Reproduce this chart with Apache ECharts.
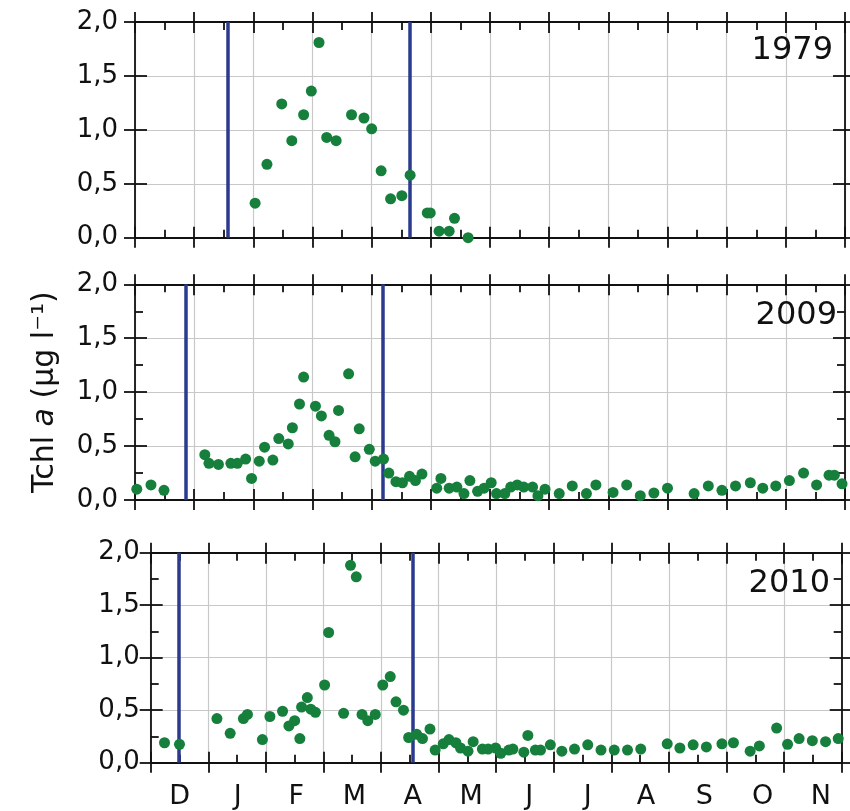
<!DOCTYPE html>
<html><head><meta charset="utf-8">
<script src="https://cdn.jsdelivr.net/npm/echarts@6/dist/echarts.min.js"></script>
<style>html,body{margin:0;padding:0;background:#fff}#c{width:850px;height:811px}</style>
</head><body><div id="c"></div>
<script>
// Month labels (x in months since 1 December) and y tick labels
const months = ['D','J','F','M','A','M','J','J','A','S','O','N'];
const yTickLabels = ['0,0','0,5','1,0','1,5','2,0'];
const years = ['1979','2009','2010'];

// 1979
const x1979 = [2.03,2.23,2.48,2.65,2.85,2.98,3.11,3.24,3.40,3.66,3.87,4.00,4.16,4.32,4.51,4.65,4.94,4.99,5.14,5.31,5.40,5.63];
const y1979 = [0.32,0.68,1.24,0.90,1.14,1.36,1.81,0.93,0.90,1.14,1.11,1.01,0.62,0.36,0.39,0.58,0.23,0.23,0.06,0.06,0.18,0.00];
const ice1979 = [1.57, 4.65];

// 2009
const x2009 = [0.03,0.27,0.49,1.18,1.25,1.41,1.62,1.73,1.87,1.97,2.10,2.19,2.33,2.43,2.59,2.66,2.78,2.85,3.05,3.15,3.28,3.38,3.44,3.61,3.72,3.79,3.96,4.06,4.20,4.29,4.41,4.52,4.64,4.74,4.85,5.10,5.17,5.31,5.44,5.56,5.66,5.79,5.90,6.02,6.11,6.25,6.35,6.46,6.57,6.72,6.81,6.93,7.17,7.39,7.63,7.79,8.08,8.31,8.54,8.77,9.00,9.45,9.69,9.92,10.15,10.40,10.61,10.83,11.06,11.30,11.52,11.73,11.82,11.95];
const y2009 = [0.10,0.14,0.09,0.42,0.34,0.33,0.34,0.34,0.38,0.20,0.36,0.49,0.37,0.57,0.52,0.67,0.89,1.14,0.87,0.78,0.60,0.54,0.83,1.17,0.40,0.66,0.47,0.36,0.38,0.25,0.17,0.16,0.22,0.18,0.24,0.11,0.20,0.11,0.12,0.06,0.18,0.08,0.11,0.16,0.06,0.06,0.12,0.14,0.12,0.12,0.04,0.10,0.06,0.13,0.06,0.14,0.07,0.14,0.04,0.065,0.11,0.06,0.13,0.09,0.13,0.16,0.11,0.13,0.18,0.25,0.14,0.23,0.23,0.15];
const ice2009 = [0.85, 4.19];

// 2010
const x2010 = [0.24,0.50,1.15,1.38,1.61,1.68,1.94,2.07,2.29,2.40,2.50,2.59,2.62,2.72,2.78,2.86,3.02,3.09,3.35,3.47,3.57,3.67,3.77,3.90,4.03,4.16,4.26,4.39,4.48,4.62,4.72,4.85,4.94,5.08,5.18,5.30,5.38,5.51,5.60,5.76,5.86,5.99,6.08,6.22,6.29,6.48,6.55,6.68,6.77,6.94,7.14,7.36,7.59,7.82,8.05,8.28,8.51,8.97,9.19,9.42,9.65,9.92,10.12,10.41,10.57,10.87,11.06,11.26,11.49,11.72,11.94];
const y2010 = [0.19,0.175,0.42,0.28,0.42,0.46,0.22,0.44,0.49,0.35,0.40,0.23,0.53,0.62,0.51,0.48,0.74,1.24,0.47,1.88,1.77,0.46,0.40,0.46,0.74,0.82,0.58,0.50,0.24,0.27,0.23,0.32,0.12,0.18,0.22,0.19,0.14,0.11,0.20,0.13,0.13,0.14,0.09,0.12,0.13,0.10,0.26,0.12,0.12,0.17,0.11,0.13,0.17,0.12,0.12,0.12,0.13,0.18,0.14,0.17,0.15,0.18,0.19,0.11,0.16,0.33,0.175,0.23,0.21,0.20,0.23];
const ice2010 = [0.49, 4.55];

const FONT = 'DejaVu Sans';
const INK = '#111';
const LW = 1.8;
const panels = [
  {x:x1979, y:y1979, ice:ice1979, grid:{left:135, top:22, width:710, height:215.7}, minorX:true, minorY:false, labelMargin:17, year:{right:17, top:35}},
  {x:x2009, y:y2009, ice:ice2009, grid:{left:135, top:284.3, width:710, height:215.7}, minorX:true, minorY:true, labelMargin:17, year:{right:13, top:300}},
  {x:x2010, y:y2010, ice:ice2010, grid:{left:150.7, top:552.7, width:691, height:210}, minorX:true, minorY:true, labelMargin:11, year:{right:20, top:568}}
];

const grid = [], xAxis = [], yAxis = [], series = [], title = [];
const tickStyle = {color:INK, width:LW};

panels.forEach((p, g) => {
  grid.push(p.grid);
  const xb = {type:'value', gridIndex:g, min:0, max:12, interval:1, axisLabel:{show:false}, splitLine:{show:false},
              axisLine:{show:false, onZero:false}};
  const inX = (pos) => Object.assign({}, xb, {position:pos,
      axisLine:{show:true, onZero:false, lineStyle:{color:INK, width:LW}},
      axisTick:{show:true, inside:true, length:11, lineStyle:tickStyle},
      minorTick:{show:p.minorX, splitNumber:2, length:8, lineStyle:tickStyle},
      splitLine:{show:pos==='bottom', lineStyle:{color:'#c8c8c8', width:1.2}}});
  const outX = (pos) => Object.assign({}, xb, {position:pos, axisTick:{show:true, inside:false, length:10, lineStyle:tickStyle}});
  xAxis.push(inX('bottom'), outX('bottom'), inX('top'), outX('top'));

  const yb = {type:'value', gridIndex:g, min:0, max:2, interval:0.5, axisLabel:{show:false}, splitLine:{show:false},
              axisLine:{show:false, onZero:false}};
  const inY = (pos) => Object.assign({}, yb, {position:pos,
      axisLine:{show:true, onZero:false, lineStyle:{color:INK, width:LW}},
      axisTick:{show:true, inside:true, length:12, lineStyle:tickStyle},
      minorTick:{show:p.minorY, splitNumber:2, length:8, lineStyle:tickStyle},
      splitLine:{show:pos==='left', lineStyle:{color:'#c8c8c8', width:1.2}}});
  const outY = (pos, labels) => {
    const a = Object.assign({}, yb, {position:pos, axisTick:{show:true, inside:false, length:11, lineStyle:tickStyle}});
    if (labels) {
      a.axisLabel = {show:true, margin:p.labelMargin, fontFamily:FONT, fontSize:26, color:INK,
        formatter: v => yTickLabels[Math.round(v/0.5)]};
    }
    return a;
  };
  const leftOut = outY('left', true);
  if (g === 1) {
    leftOut.name = 'Tchl {i|a} (μg l⁻¹)';
    leftOut.nameLocation = 'middle';
    leftOut.nameGap = 75;
    leftOut.nameRotate = 90;
    leftOut.nameTextStyle = {fontFamily:FONT, fontSize:30, color:INK,
      rich:{i:{fontFamily:FONT, fontSize:30, fontStyle:'italic', color:INK}}};
  }
  yAxis.push(inY('left'), leftOut, inY('right'), outY('right', false));

  series.push({
    type:'scatter', xAxisIndex:4*g, yAxisIndex:4*g, z:3,
    symbol:'circle', symbolSize:11, itemStyle:{color:'#157f3b', opacity:1},
    data: p.x.map((v,i) => [v, p.y[i]]),
    markLine:{silent:true, z:1, symbol:['none','none'], label:{show:false},
      lineStyle:{color:'#2b3a8e', width:3.5, type:'solid'},
      emphasis:{disabled:true},
      data: p.ice.map(v => ({xAxis:v}))}
  });

  title.push({text:years[g], right:p.year.right, top:p.year.top, padding:0,
    textStyle:{fontFamily:FONT, fontSize:32, fontWeight:'normal', color:INK}});
});

// month label axis
grid.push({left:150.4, top:552.7, width:711.3, height:210});
xAxis.push({type:'category', gridIndex:3, data:months, position:'bottom', boundaryGap:true,
  axisLine:{show:false}, axisTick:{show:false}, splitLine:{show:false},
  axisLabel:{show:true, interval:0, margin:21, fontFamily:FONT, fontSize:27, color:INK}});
yAxis.push({type:'value', gridIndex:3, show:false, min:0, max:2});

const chart = echarts.init(document.getElementById('c'), null, {renderer:'canvas'});
chart.setOption({animation:false, backgroundColor:'#fff', title, grid, xAxis, yAxis, series});
</script></body></html>
